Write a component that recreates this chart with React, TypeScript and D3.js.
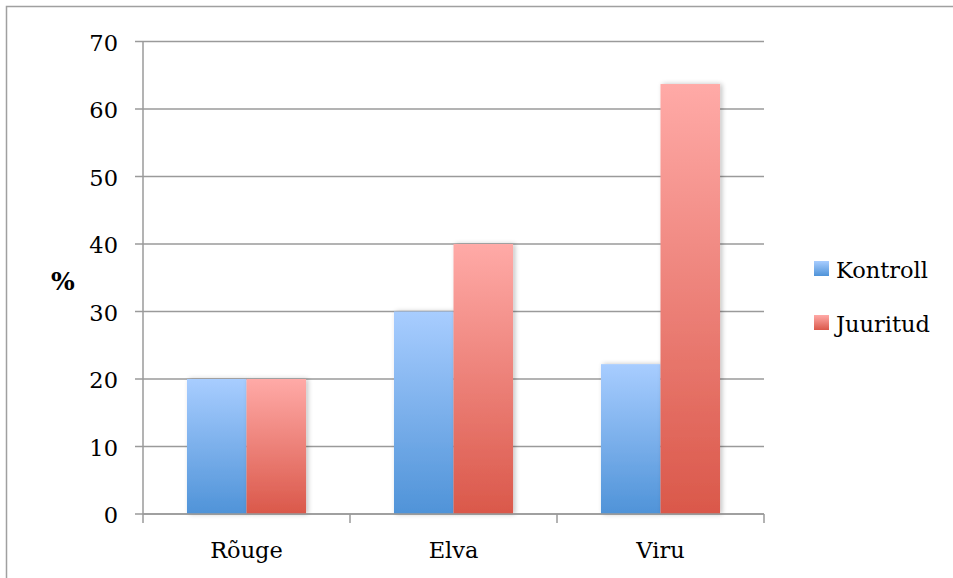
import React from "react";
import * as d3 from "d3";

const categories = ["Rõuge", "Elva", "Viru"];
const seriesNames = ["Kontroll", "Juuritud"];
const kontroll = [20, 30, 22.2];
const juuritud = [20, 40, 63.7];
const yTicks = [0, 10, 20, 30, 40, 50, 60, 70];

const W = 953;
const H = 578;
const FONT = "DejaVu Serif";
const FS = 22.5;

export default function App() {
  const left = 143, right = 764, top = 41.5, bottom = 514;
  const x = d3.scaleBand<string>().domain(categories).range([left, right]).paddingInner(0).paddingOuter(0);
  const bw = x.bandwidth();
  const groupW = bw * 0.575;
  const xs = d3.scaleBand<string>().domain(seriesNames).range([0, groupW]).padding(0);
  const y = d3.scaleLinear().domain([0, 70]).range([bottom, top]);
  const series = [kontroll, juuritud];
  const grads = ["gBlue", "gRed"];
  const ts: React.CSSProperties = { fontFamily: FONT, fontSize: FS };

  return (
    <div style={{ position: "absolute", left: 0, top: 0 }}>
      <svg width={W} height={H} style={{ display: "block" }}>
        <defs>
          <linearGradient id="gBlue" x1="0" y1="0" x2="0" y2="1">
            <stop offset="0" stopColor="#a8cdff" />
            <stop offset="1" stopColor="#4f93d8" />
          </linearGradient>
          <linearGradient id="gRed" x1="0" y1="0" x2="0" y2="1">
            <stop offset="0" stopColor="#ffaaa7" />
            <stop offset="1" stopColor="#da584a" />
          </linearGradient>
          <filter id="shadow" x="-20%" y="-10%" width="140%" height="120%">
            <feGaussianBlur in="SourceAlpha" stdDeviation="2.5" />
            <feOffset dx="1.5" dy="0" result="b" />
            <feComponentTransfer>
              <feFuncA type="linear" slope="0.25" />
            </feComponentTransfer>
            <feMerge>
              <feMergeNode />
              <feMergeNode in="SourceGraphic" />
            </feMerge>
          </filter>
        </defs>
        <rect x={6.5} y={6.5} width={1000} height={1000} fill="#fff" stroke="#a0a0a0" strokeWidth={1.5} />

        {yTicks.map((t) => (
          <line key={"g" + t} x1={left - 8} x2={right} y1={y(t)} y2={y(t)} stroke="#9a9a9a" strokeWidth={1.5} />
        ))}
        <line x1={left} x2={left} y1={top} y2={bottom + 9} stroke="#9a9a9a" strokeWidth={1.5} />
        {[...categories.map((c) => x(c) as number), right].map((v, i) =>
          i === 0 ? null : <line key={"xt" + i} x1={v} x2={v} y1={bottom} y2={bottom + 9} stroke="#9a9a9a" strokeWidth={1.5} />
        )}

        {series.map((vals, si) =>
          categories.map((c, ci) => {
            const gx = (x(c) as number) + (bw - groupW) / 2 + (xs(seriesNames[si]) as number);
            return (
              <rect
                key={si + "-" + ci}
                x={gx}
                y={y(vals[ci])}
                width={xs.bandwidth()}
                height={bottom - y(vals[ci])}
                fill={`url(#${grads[si]})`}
                filter="url(#shadow)"
              />
            );
          })
        )}
        <line x1={left} x2={right} y1={bottom} y2={bottom} stroke="#9a9a9a" strokeWidth={1.5} />

        {yTicks.map((t) => (
          <text key={"yl" + t} x={118} y={y(t) + 9} textAnchor="end" style={ts} fill="#000">
            {t}
          </text>
        ))}
        {categories.map((c) => (
          <text key={"xl" + c} x={(x(c) as number) + bw / 2} y={558} textAnchor="middle" style={ts} fill="#000">
            {c}
          </text>
        ))}
        <text x={63} y={290} textAnchor="middle" style={{ ...ts, fontSize: 25, fontWeight: "bold" }} fill="#000">%</text>

        {seriesNames.map((s, i) => (
          <g key={"lg" + s} transform={`translate(814, ${261 + i * 54})`}>
            <rect x={0} y={0} width={15} height={15} fill={`url(#${grads[i]})`} />
            <text x={22} y={17} style={ts} fill="#000">{s}</text>
          </g>
        ))}
      </svg>
    </div>
  );
}
